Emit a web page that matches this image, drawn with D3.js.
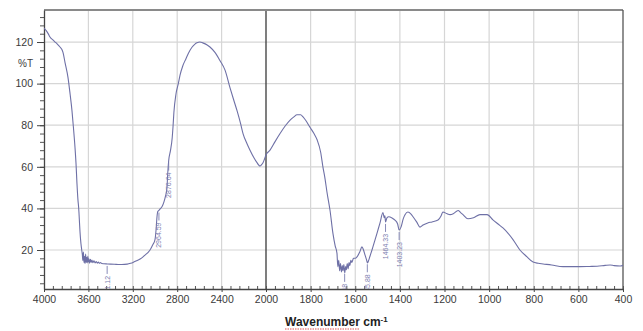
<!DOCTYPE html>
<html>
<head>
<meta charset="utf-8">
<script src="https://cdn.jsdelivr.net/npm/d3@7"></script>
<style>
  html, body { margin: 0; padding: 0; background: #fff; }
  svg { display: block; }
</style>
</head>
<body>
<svg id="chart" width="643" height="331"></svg>
<script>
// IR transmission spectrum: wavenumber (cm-1) vs %T
const wavenumbers = [
  4000, 3980, 3960, 3946, 3920, 3900, 3880, 3856, 3840, 3829, 3810, 3784, 3765, 3748, 3735, 3721,
  3712, 3703, 3694, 3688, 3685, 3680, 3676, 3667, 3660, 3655,
  3650, 3645, 3640, 3635, 3630, 3625, 3620, 3615, 3610, 3605, 3600, 3595, 3590, 3582, 3575, 3568,
  3560, 3550, 3540, 3530, 3520, 3510, 3500, 3490, 3480, 3460, 3431, 3400, 3350, 3300, 3250, 3220,
  3198, 3160, 3130, 3108, 3080, 3060, 3045, 3020, 3000, 2990, 2982, 2975, 2964.59, 2950, 2935, 2920,
  2905, 2892, 2885, 2876.64, 2860, 2845, 2838, 2830, 2811, 2790, 2775, 2750, 2721, 2700, 2667, 2640,
  2622, 2595, 2570, 2530, 2505, 2460, 2414, 2369, 2324, 2290, 2261, 2230, 2207, 2170, 2144, 2110,
  2081, 2065, 2054, 2040, 2027, 2015, 2000, 1982, 1960, 1937, 1915, 1892, 1875, 1861, 1845, 1834,
  1820, 1803, 1785, 1771, 1755, 1745, 1735, 1727, 1713, 1700, 1690, 1682,
  1678, 1674, 1670, 1666, 1662, 1658, 1655, 1651, 1647, 1643, 1640, 1636, 1632, 1628, 1624, 1620,
  1615, 1608, 1600, 1592, 1580, 1570, 1563, 1556, 1550, 1545, 1540, 1534, 1525, 1511, 1500, 1489,
  1476, 1470, 1467, 1464.33, 1458, 1450, 1435, 1422, 1410, 1403.23, 1395, 1385, 1377, 1364, 1350, 1341,
  1325, 1310, 1296, 1275, 1256, 1229, 1215, 1207, 1190, 1175, 1160, 1139, 1128, 1117, 1095, 1070,
  1041, 1009, 983, 960, 938, 915, 893, 862, 830, 803, 780, 758, 720, 669, 640, 593,
  550, 516, 480, 458, 440, 413, 400
];
const transmittance = [
  126.7, 125.5, 123.8, 122.4, 121.0, 120.0, 119.0, 117.6, 116.5, 115.0, 110.0, 103.0, 95.0, 87.0, 79.0, 69.5,
  62.0, 52.0, 44.0, 40.5, 38.0, 33.0, 29.0, 23.0, 20.0, 18.0,
  15.0, 19.0, 14.0, 17.0, 13.5, 18.0, 14.0, 16.5, 13.8, 17.0, 14.2, 15.8, 13.6, 15.5, 14.0, 15.2,
  13.9, 14.8, 13.8, 14.5, 13.7, 14.2, 13.6, 14.0, 13.5, 13.4, 13.3, 13.2, 13.1, 13.0, 13.2, 13.6,
  14.0, 15.0, 15.8, 16.7, 18.0, 19.0, 20.0, 22.5, 25.0, 30.0, 36.0, 38.5, 39.0, 40.0, 41.0, 43.0,
  46.0, 50.0, 57.0, 63.0, 68.0, 74.0, 79.0, 86.0, 95.0, 100.0, 104.0, 108.5, 112.0, 114.5, 117.5, 119.0,
  119.6, 120.0, 119.6, 118.6, 117.6, 115.0, 111.0, 106.5, 98.0, 92.0, 87.0, 81.0, 76.0, 71.0, 68.0, 64.5,
  62.0, 60.8, 60.4, 61.0, 62.0, 63.5, 65.7, 68.0, 72.0, 76.0, 79.5, 82.5, 84.0, 85.0, 85.0, 84.0,
  82.0, 79.0, 76.0, 73.0, 67.0, 60.0, 54.0, 48.0, 39.0, 28.0, 22.0, 18.5,
  12.0, 15.0, 10.0, 13.5, 9.5, 12.5, 10.0, 13.0, 9.0, 12.0, 10.5, 13.5, 11.0, 14.0, 12.5, 15.0,
  14.0, 16.0, 16.0, 16.7, 19.0, 21.5, 20.0, 17.5, 15.5, 13.8, 15.0, 17.0, 20.0, 25.0, 29.0, 33.0,
  38.0, 35.5, 36.5, 33.5, 35.5, 36.0, 35.4, 34.4, 32.5, 29.6, 31.0, 35.0, 37.0, 38.3, 37.3, 36.0,
  33.5, 31.0, 32.0, 33.0, 33.5, 34.4, 36.5, 38.3, 37.5, 37.0, 37.5, 39.0, 38.0, 37.0, 35.0, 35.5,
  37.0, 37.0, 34.5, 32.5, 30.6, 28.0, 25.0, 20.0, 16.7, 14.2, 13.6, 13.3, 12.8, 12.0, 12.0, 12.0,
  12.1, 12.2, 12.6, 12.8, 12.5, 12.3, 12.6
];

// Annotated peaks (labels read bottom-to-top below the trace)
const peakWavenumbers = [3431.12, 2964.59, 2876.64, 1647.48, 1545.88, 1464.33, 1403.23];
const peakLabels = ["3431.12", "2964.59", "2876.64", "1647.48", "1545.88", "1464.33", "1403.23"];

// Axis ticks
const xTickLabels = [4000, 3600, 3200, 2800, 2400, 2000, 1800, 1600, 1400, 1200, 1000, 800, 600, 400];
const xGridValues = [3600, 3200, 2800, 2400, 1800, 1600, 1400, 1200, 1000, 800, 600];
const yTickLabels = [20, 40, 60, 80, 100, 120];

const svg = d3.select("#chart");
const plotLeft = 44, plotRight = 623, plotTop = 10, plotBottom = 289;

// The wavenumber axis is compressed 2:1 above 2000 cm-1
const x = d3.scaleLinear().domain([4000, 2000, 400]).range([plotLeft, 266, plotRight]);
const y = d3.scaleLinear().domain([1.25, 135.4]).range([plotBottom, plotTop]);

svg.append("defs").append("clipPath").attr("id", "plot-clip")
  .append("rect").attr("x", plotLeft).attr("y", plotTop)
  .attr("width", plotRight - plotLeft).attr("height", plotBottom - plotTop);

// Grid
const grid = svg.append("g");
grid.selectAll("line.v").data(xGridValues).join("line").attr("class", "v")
  .attr("x1", d => x(d)).attr("x2", d => x(d))
  .attr("y1", plotTop).attr("y2", plotBottom)
  .attr("stroke", "#d6d6d6").attr("stroke-width", 1.2);
grid.selectAll("line.h").data(yTickLabels).join("line").attr("class", "h")
  .attr("x1", plotLeft).attr("x2", plotRight)
  .attr("y1", d => y(d)).attr("y2", d => y(d))
  .attr("stroke", "#d6d6d6").attr("stroke-width", 1.2);

// Scale-change divider at 2000 cm-1
svg.append("line")
  .attr("x1", x(2000)).attr("x2", x(2000)).attr("y1", plotTop).attr("y2", plotBottom)
  .attr("stroke", "#3a3a3a").attr("stroke-width", 1.3);

// Frame
svg.append("line").attr("x1", plotLeft).attr("x2", plotRight).attr("y1", plotTop).attr("y2", plotTop)
  .attr("stroke", "#8a8a8a").attr("stroke-width", 2);
svg.append("line").attr("x1", plotRight).attr("x2", plotRight).attr("y1", plotTop).attr("y2", plotBottom)
  .attr("stroke", "#555").attr("stroke-width", 1.3);

// Bottom axis: minor ticks every 80 (left half) / 40 (right half)
const xMinor = d3.range(4000, 2000, -80).concat(d3.range(2000, 399, -40));
svg.append("g").attr("transform", `translate(0,${plotBottom})`)
  .call(d3.axisBottom(x).tickValues(xMinor).tickSizeInner(-3).tickSizeOuter(0).tickFormat(""))
  .call(g => g.select(".domain").remove())
  .call(g => g.selectAll("line").attr("stroke", "#555"));
svg.append("g").attr("transform", `translate(0,${plotBottom})`)
  .call(d3.axisBottom(x).tickValues(xTickLabels).tickSizeInner(3).tickSizeOuter(0).tickPadding(4).tickFormat(d3.format("d")))
  .call(g => g.select(".domain").attr("stroke", "#444").attr("stroke-width", 1.5))
  .call(g => g.selectAll("line").attr("stroke", "#444"))
  .call(g => g.selectAll("text").attr("font-family", "Liberation Sans, Arial, sans-serif")
    .attr("font-size", 10.5).attr("fill", "#3a3a3a"));

// Left axis: minor ticks every 4 %T
const yMinor = d3.range(4, 135, 4);
svg.append("g").attr("transform", `translate(${plotLeft},0)`)
  .call(d3.axisLeft(y).tickValues(yMinor).tickSizeInner(4).tickSizeOuter(0).tickFormat(""))
  .call(g => g.select(".domain").remove())
  .call(g => g.selectAll("line").attr("stroke", "#555"));
svg.append("g").attr("transform", `translate(${plotLeft},0)`)
  .call(d3.axisLeft(y).tickValues(yTickLabels).tickSizeInner(7).tickSizeOuter(0).tickPadding(4).tickFormat(d3.format("d")))
  .call(g => g.select(".domain").attr("stroke", "#444").attr("stroke-width", 1.3))
  .call(g => g.selectAll("line").attr("stroke", "#444"))
  .call(g => g.selectAll("text").attr("font-family", "Liberation Sans, Arial, sans-serif")
    .attr("font-size", 10.5).attr("fill", "#3a3a3a"));

svg.append("text").attr("x", 33).attr("y", y(110) + 4).attr("text-anchor", "end")
  .attr("font-family", "Liberation Sans, Arial, sans-serif").attr("font-size", 10).attr("fill", "#3a3a3a")
  .text("%T");

// Spectrum trace
const points = wavenumbers.map((w, i) => [w, transmittance[i]]);
const line = d3.line().x(d => x(d[0])).y(d => y(d[1])).curve(d3.curveMonotoneX);
svg.append("path").datum(points)
  .attr("clip-path", "url(#plot-clip)")
  .attr("d", line)
  .attr("fill", "none").attr("stroke", "#6e70a6").attr("stroke-width", 1.1);

// Peak markers and labels
const trValue = w => {
  const i = d3.bisector(d => -d).left(wavenumbers, -w);
  if (i <= 0) return transmittance[0];
  const w0 = wavenumbers[i - 1], w1 = wavenumbers[i];
  const t = (w0 - w) / (w0 - w1);
  return transmittance[i - 1] + t * (transmittance[i] - transmittance[i - 1]);
};
const peaks = svg.append("g").attr("clip-path", "url(#plot-clip)");
peakWavenumbers.forEach((w, i) => {
  const px = x(w), py = y(trValue(w));
  peaks.append("line").attr("x1", px).attr("x2", px).attr("y1", py + 2).attr("y2", py + 10)
    .attr("stroke", "#7b7eb0").attr("stroke-width", 0.9);
  peaks.append("text")
    .attr("transform", `translate(${px},${py + 12}) rotate(-90)`)
    .attr("text-anchor", "end").attr("dy", "0.35em")
    .attr("font-family", "Liberation Sans, Arial, sans-serif").attr("font-size", 7)
    .attr("fill", "#7b7eb0")
    .text(peakLabels[i]);
});

// Axis title
const title = svg.append("text").attr("x", 285).attr("y", 326)
  .attr("font-family", "Liberation Sans, Arial, sans-serif").attr("font-weight", "bold")
  .attr("font-size", 12).attr("fill", "#222");
title.append("tspan").text("Wavenumber");
title.append("tspan").text(" cm");
title.append("tspan").attr("font-size", 8).attr("dy", -4).text("-1");

// Spell-check squiggle under the title word
const wb = title.select("tspan").node().getComputedTextLength();
svg.append("line").attr("x1", 285).attr("x2", 285 + wb).attr("y1", 329).attr("y2", 329)
  .attr("stroke", "#e05050").attr("stroke-width", 1).attr("stroke-dasharray", "1.5,1");
</script>
</body>
</html>
